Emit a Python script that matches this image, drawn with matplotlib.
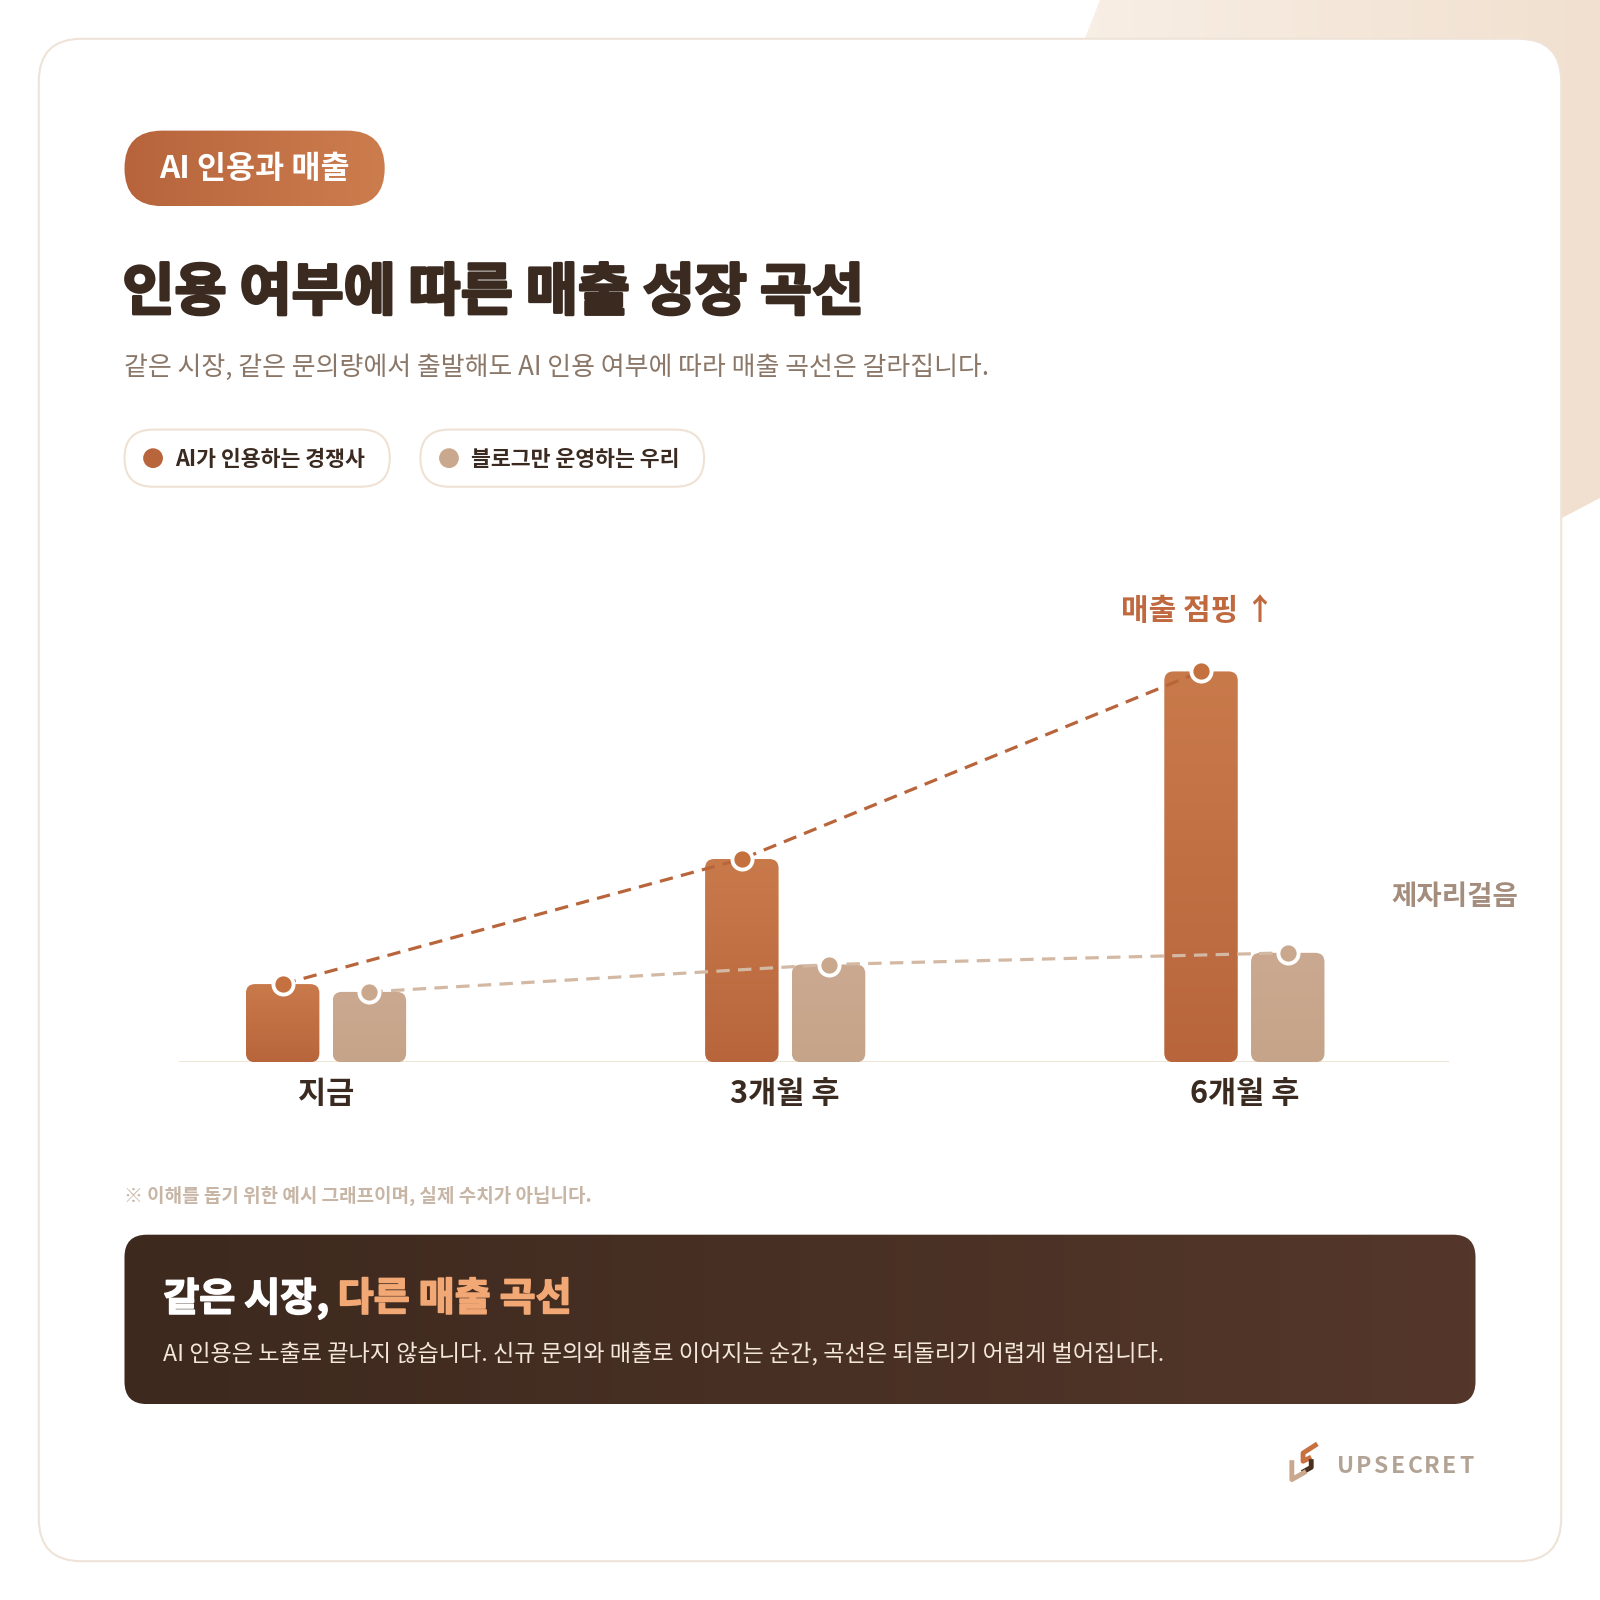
import numpy as np
import matplotlib
matplotlib.use("Agg")
import matplotlib.pyplot as plt
import matplotlib.patheffects as pe
from matplotlib.patches import FancyBboxPatch, Polygon, Circle
from matplotlib.colors import LinearSegmentedColormap

plt.rcParams['font.family'] = ['Noto Sans CJK KR', 'DejaVu Sans']

# data
categories = ['지금', '3개월 후', '6개월 후']
competitor = [20, 52, 100]   # AI가 인용하는 경쟁사
ours = [18, 25, 28]          # 블로그만 운영하는 우리
series_names = ['AI가 인용하는 경쟁사', '블로그만 운영하는 우리']

# colours
ORANGE_T, ORANGE_B = '#c97a4b', '#b8653c'
TAN_T, TAN_B = '#cba991', '#c5a489'
ORANGE_LINE = '#b9653b'
TAN_LINE = '#d3b9a3'
DARK = '#3a2a20'

W = 1568  # layout units (reference pixels)


def pt(px):
    # layout px -> font points
    return px * 1600 / W * 72 / 100


def grad(ax, patch, extent, c0, c1, horizontal=False, z=1):
    ax.add_patch(patch)
    if horizontal:
        arr = np.linspace(0, 1, 256).reshape(1, -1)
    else:
        arr = np.linspace(0, 1, 256).reshape(-1, 1)
    cmap = LinearSegmentedColormap.from_list('g', [c0, c1])
    im = ax.imshow(arr, extent=extent, cmap=cmap, aspect='auto',
                   interpolation='bicubic', zorder=z)
    im.set_clip_path(patch)


def heavy(c, w=1.2):
    return [pe.withStroke(linewidth=w, foreground=c)]


fig = plt.figure(figsize=(16, 16), dpi=100)
fig.patch.set_facecolor('white')

# full page layer
bg = fig.add_axes([0, 0, 1, 1], zorder=0)
bg.set_xlim(0, W)
bg.set_ylim(W, 0)
bg.axis('off')

# beige corner shape behind the card
corner = Polygon([(1078, 0), (W, 0), (W, 488), (1530, 508), (900, 420), (960, 300)],
                 closed=True, facecolor='none', edgecolor='none')
grad(bg, corner, (900, W, 520, 0), '#faf3ec', '#f1e0cf', horizontal=True, z=0)

# card
card = FancyBboxPatch((38, 38), 1492, 1492, boxstyle='round,pad=0,rounding_size=42',
                      facecolor='white', edgecolor='#efe3d7', lw=1.5, zorder=1)
bg.add_patch(card)

# badge
badge = FancyBboxPatch((122, 128), 255, 74, boxstyle='round,pad=0,rounding_size=37',
                       facecolor='none', edgecolor='none', zorder=2)
grad(bg, badge, (122, 377, 202, 128), '#b7643c', '#cc7d4e', horizontal=True, z=2)
bg.text(249.5, 166, 'AI 인용과 매출', ha='center', va='center', color='white',
        fontsize=pt(31), fontweight='bold', zorder=3)

# title and subtitle
bg.text(120, 287, '인용 여부에 따른 매출 성장 곡선', ha='left', va='center',
        color=DARK, fontsize=pt(55.5), fontweight='black', zorder=3,
        path_effects=heavy(DARK, 2.0))
bg.text(122, 360, '같은 시장, 같은 문의량에서 출발해도 AI 인용 여부에 따라 매출 곡선은 갈라집니다.',
        ha='left', va='center', color='#8a7768', fontsize=pt(25.4), zorder=3)

# legend pills
pills = [(122, 260, ORANGE_B), (412, 278, '#c9a88d')]
for (px0, pw, dc), name in zip(pills, series_names):
    p = FancyBboxPatch((px0, 421), pw, 56, boxstyle='round,pad=0,rounding_size=28',
                       facecolor='white', edgecolor='#efe2d5', lw=1.5, zorder=2)
    bg.add_patch(p)
    bg.add_patch(Circle((px0 + 28, 449), 9, color=dc, zorder=3))
    bg.text(px0 + 50, 450, name, ha='left', va='center', color=DARK,
            fontsize=pt(21.2), fontweight='bold', zorder=3)

# note
bg.text(122, 1172, '※ 이해를 돕기 위한 예시 그래프이며, 실제 수치가 아닙니다.', ha='left',
        va='center', color='#c7b5a5', fontsize=pt(18.6), fontweight='bold', zorder=3)

# dark summary box
box = FancyBboxPatch((122, 1210), 1324, 166, boxstyle='round,pad=0,rounding_size=22',
                     facecolor='none', edgecolor='none', zorder=2)
grad(bg, box, (122, 1446, 1376, 1210), '#3d291e', '#54372a', horizontal=True, z=2)
t1 = bg.text(160, 1273, '같은 시장, ', ha='left', va='center', color='white',
             fontsize=pt(38.4), fontweight='bold', zorder=3,
             path_effects=heavy('white', 1.2))
fig.canvas.draw()
bb = t1.get_window_extent()
x_end = bg.transData.inverted().transform((bb.x1, bb.y0))[0]
bg.text(x_end, 1273, '다른 매출 곡선', ha='left', va='center', color='#f2a874',
        fontsize=pt(38.4), fontweight='bold', zorder=3,
        path_effects=heavy('#f2a874', 1.2))
bg.text(160, 1327, 'AI 인용은 노출로 끝나지 않습니다. 신규 문의와 매출로 이어지는 순간, '
        '곡선은 되돌리기 어렵게 벌어집니다.', ha='left', va='center', color='#f3e6da',
        fontsize=pt(22.7), zorder=3)

# logo
bg.plot([1291, 1277, 1277, 1285], [1415, 1424, 1432, 1428], color='#c8703f',
        lw=3.5, solid_capstyle='butt', zorder=3)
bg.plot([1285, 1285, 1276], [1430, 1438, 1443], color='#4a3020', lw=3.5,
        solid_capstyle='butt', zorder=3)
bg.plot([1266, 1266, 1280], [1431, 1450, 1442], color='#c9a88d', lw=3.5,
        solid_capstyle='butt', zorder=3)
for i, ch in enumerate('UPSECRET'):
    bg.text(1319 + i * 16.9, 1437, ch, ha='center', va='center', color='#b3a395',
            fontsize=pt(22.5), fontweight='bold', zorder=3)

bg.set_xlim(0, W)
bg.set_ylim(W, 0)

# chart
base_px, top_px, left_px, right_px = 1041, 560, 175, 1420
grp_px = 450.0
ax = fig.add_axes([left_px / W, 1 - base_px / W, (right_px - left_px) / W,
                   (base_px - top_px) / W], zorder=1)
ax.set_facecolor('none')
for s in ax.spines.values():
    s.set_visible(False)
ymax = (base_px - top_px) / 3.83
x0 = (left_px - 319.5) / grp_px
x1 = (right_px - 319.5) / grp_px
ax.set_xlim(x0, x1)
ax.set_ylim(0, ymax)

x = np.arange(len(categories))
off = 42.5 / grp_px
bw = 72 / grp_px
aspect = (grp_px) / 3.83  # px per x unit / px per y unit
rad = 9 / grp_px

b1 = ax.bar(x - off, competitor, bw, alpha=0)
b2 = ax.bar(x + off, ours, bw, alpha=0)
for bars, c0, c1 in [(b1, ORANGE_T, ORANGE_B), (b2, TAN_T, TAN_B)]:
    for r in bars:
        rx, rw, rh = r.get_x(), r.get_width(), r.get_height()
        rp = FancyBboxPatch((rx, 0), rw, rh,
                            boxstyle=f'round,pad=0,rounding_size={rad}',
                            mutation_aspect=aspect, facecolor='none',
                            edgecolor='none', zorder=2)
        grad(ax, rp, (rx, rx + rw, 0, rh), c0, c1, z=2)

ax.axhline(0, color='#efe4d8', lw=2.2, zorder=1)

ax.plot(x - off, competitor, color=ORANGE_LINE, lw=2.3, dashes=(4.2, 2.6), zorder=4)
ax.plot(x + off, ours, color=TAN_LINE, lw=2.3, dashes=(4.2, 2.6), zorder=4)
ax.plot(x - off, competitor, 'o', ms=14.5, mfc='#c4713f', mec='white', mew=2.8, zorder=5)
ax.plot(x + off, ours, 'o', ms=14.5, mfc='#c9a88d', mec='white', mew=2.8, zorder=5)

ax.annotate('매출 점핑 ↑', (x[2] - off, competitor[2]), xytext=(-2, pt(59)),
            textcoords='offset points', ha='center', va='center', color='#c0693f',
            fontsize=pt(29.4), fontweight='bold', annotation_clip=False)
ax.annotate('제자리걸음', (x[2] + off, ours[2]), xytext=(pt(164), pt(55)),
            textcoords='offset points', ha='center', va='center', color='#a48d7d',
            fontsize=pt(27), fontweight='bold', annotation_clip=False)

ax.set_xticks(x)
ax.set_xticklabels(categories, fontsize=pt(30), fontweight='bold', color=DARK)
ax.tick_params(axis='x', length=0, pad=pt(15))
ax.set_yticks([])
ax.set_xlim(x0, x1)
ax.set_ylim(0, ymax)

fig.savefig('out.png', dpi=100, facecolor='white')
